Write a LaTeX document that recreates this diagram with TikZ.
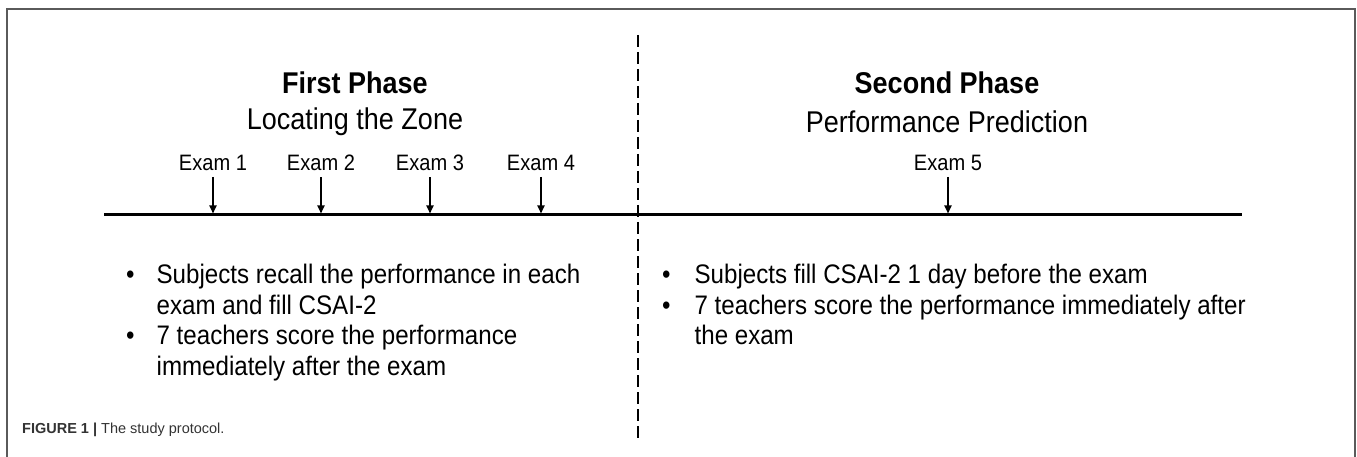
\documentclass[tikz,border=0pt]{standalone}
\usepackage{fontspec}
\setmainfont{Liberation Sans}[FakeStretch=0.9]
\newfontfamily\capfont{Liberation Sans}
\usetikzlibrary{arrows.meta}
\definecolor{framegray}{HTML}{5A5A5A}
\definecolor{capgray}{HTML}{333333}
\begin{document}
\begin{tikzpicture}[x=1pt,y=-1pt,
  title/.style={font=\fontsize{30}{36}\selectfont\bfseries, inner sep=0pt},
  subtitle/.style={font=\fontsize{30}{36}\selectfont, inner sep=0pt},
  examlbl/.style={font=\fontsize{22.3}{26}\selectfont, inner sep=0pt},
  examarrow/.style={line width=1.8pt, -{Triangle[length=8pt,width=7pt]}},
  bullets/.style={font=\fontsize{26.8}{30.5}\selectfont, inner sep=0pt, anchor=north west},
  caption/.style={font=\capfont\fontsize{14.5}{18}\selectfont, text=capgray, inner sep=0pt, anchor=west}]
\useasboundingbox (0,0) rectangle (1357,457);
\fill[white] (0,0) rectangle (1357,457);
% frame
\draw[framegray, line width=2pt] (7,457) -- (7,9) -- (1355,9) -- (1355,457);
% phase titles
\node[title] (p1) at (355,83) {First Phase};
\node[subtitle] (p1s) at (355,122) {Locating the Zone};
\node[title] (p2) at (947,83) {Second Phase};
\node[subtitle] (p2s) at (947,122) {Performance Prediction};
% divider
\coordinate (dtop) at (638,35);
\coordinate (dbot) at (638,440);
\draw[line width=1.5pt, dash pattern=on 12pt off 5pt] (dtop) -- (dbot);
% timeline
\coordinate (tl) at (104,215);
\coordinate (tr) at (1242,215);
\draw[line width=3pt] (tl) -- (tr);
% exams
\foreach \i/\x in {1/213,2/321,3/430,4/541,5/948}{
  \node[examlbl] (e\i) at (\x,163) {Exam \i};
  \coordinate (t\i) at (\x,213.5);
  \draw[examarrow] ([yshift=-6pt]e\i.south) -- (t\i);
}
% bullet lists
\node[bullets] (b1) at (126,262) {\begin{tabular}{@{}l@{\hspace{22pt}}l@{}}
\textbullet & Subjects recall the performance in each\\
 & exam and fill CSAI-2\\
\textbullet & 7 teachers score the performance\\
 & immediately after the exam
\end{tabular}};
\node[bullets] (b2) at (662,262) {\begin{tabular}{@{}l@{\hspace{24pt}}l@{}}
\textbullet & Subjects fill CSAI-2 1 day before the exam\\
\textbullet & 7 teachers score the performance immediately after\\
 & the exam
\end{tabular}};
% caption
\node[caption] (cap) at (22,430) {\textbf{FIGURE 1 |} The study protocol.};
\end{tikzpicture}
\end{document}
